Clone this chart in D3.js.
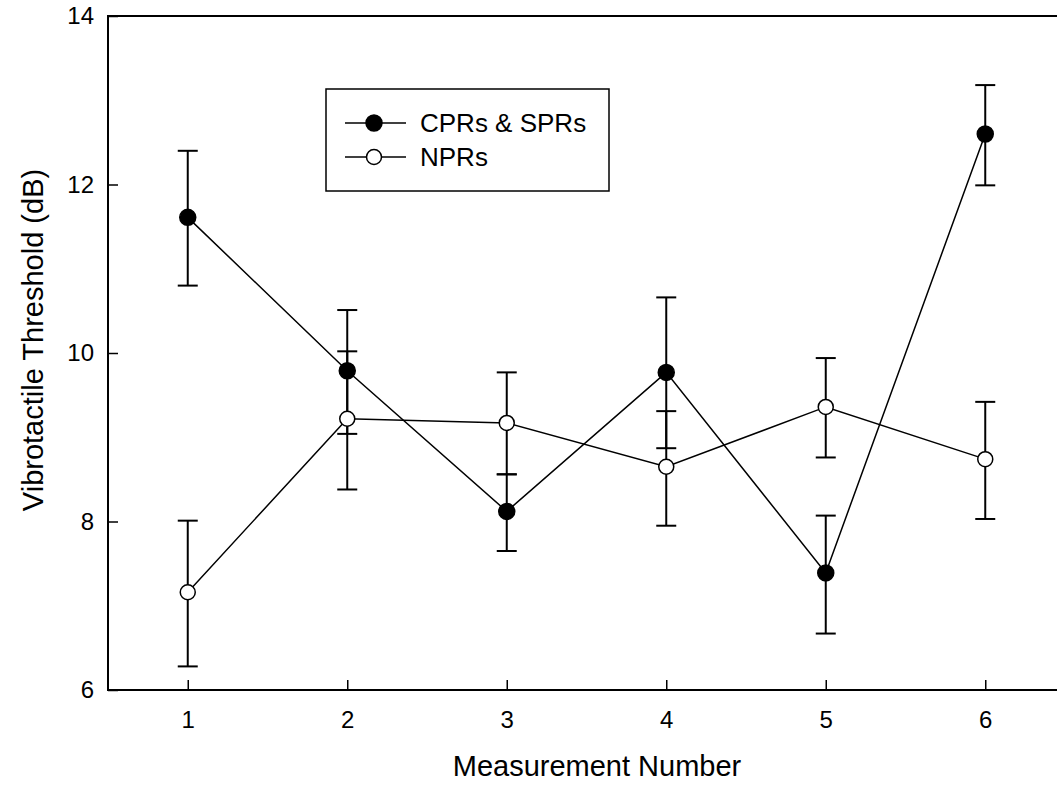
<!DOCTYPE html>
<html>
<head>
<meta charset="utf-8">
<script src="https://cdn.jsdelivr.net/npm/d3@7"></script>
<style>
    body { margin: 0; background: #fff; }
    svg { display: block; font-family: "Liberation Sans", Arial, sans-serif; }
</style>
</head>
<body>
<svg id="chart"></svg>
<script>
// Data
const measurements = [1, 2, 3, 4, 5, 6];
const cprMean = [11.61, 9.79, 8.12, 9.77, 7.39, 12.60];
const cprLow  = [10.80, 9.04, 7.65, 8.87, 6.67, 11.99];
const cprHigh = [12.40, 10.51, 8.56, 10.66, 8.07, 13.18];
const nprMean = [7.16, 9.22, 9.17, 8.65, 9.36, 8.74];
const nprLow  = [6.28, 8.38, 8.56, 7.95, 8.76, 8.03];
const nprHigh = [8.01, 10.02, 9.77, 9.31, 9.94, 9.42];
const yTicks = [6, 8, 10, 12, 14];
const seriesNames = ['CPRs & SPRs', 'NPRs'];

const width = 1057, height = 792;
const margin = { top: 16, left: 108, bottom: 102 };

const svg = d3.select('#chart')
    .attr('width', width)
    .attr('height', height);

const series = [
    { name: seriesNames[0], fill: '#000', mean: cprMean, low: cprLow, high: cprHigh },
    { name: seriesNames[1], fill: '#fff', mean: nprMean, low: nprLow, high: nprHigh }
].map(s => ({
    ...s,
    values: measurements.map((m, i) => ({ x: m, y: s.mean[i], lo: s.low[i], hi: s.high[i] }))
}));

const xScale = d3.scaleLinear()
    .domain([0.5, 6.5])
    .range([margin.left, margin.left + 6 * 159.5]);

const yScale = d3.scaleLinear()
    .domain([6, 14])
    .range([height - margin.bottom, margin.top]);

// axes (ticks pointing inward)
const xAxis = d3.axisBottom(xScale)
    .tickValues(measurements)
    .tickSizeInner(-10)
    .tickSizeOuter(0)
    .tickPadding(21)
    .tickFormat(d3.format('d'));

const yAxis = d3.axisLeft(yScale)
    .tickValues(yTicks)
    .tickSizeInner(-10)
    .tickSizeOuter(0)
    .tickPadding(14);

const xAxisG = svg.append('g')
    .attr('transform', `translate(0,${yScale(6)})`)
    .call(xAxis);

const yAxisG = svg.append('g')
    .attr('transform', `translate(${xScale(0.5)},0)`)
    .call(yAxis);

[xAxisG, yAxisG].forEach(g => {
    g.select('.domain').remove();
    g.selectAll('.tick line').attr('stroke', '#000').attr('stroke-width', 1.5);
    g.selectAll('.tick text')
        .attr('fill', '#000')
        .style('font-size', '24px')
        .style('font-family', '"Liberation Sans", Arial, sans-serif');
});

// frame
svg.append('rect')
    .attr('x', xScale(0.5))
    .attr('y', yScale(14))
    .attr('width', xScale(6.5) - xScale(0.5))
    .attr('height', yScale(6) - yScale(14))
    .attr('fill', 'none')
    .attr('stroke', '#000')
    .attr('stroke-width', 2);

// axis titles
svg.append('text')
    .attr('x', 597)
    .attr('y', 776)
    .attr('text-anchor', 'middle')
    .style('font-size', '29px')
    .text('Measurement Number');

svg.append('text')
    .attr('transform', 'rotate(-90)')
    .attr('x', -340)
    .attr('y', 43)
    .attr('text-anchor', 'middle')
    .style('font-size', '29px')
    .text('Vibrotactile Threshold (dB)');

const line = d3.line()
    .x(d => xScale(d.x))
    .y(d => yScale(d.y));

const marks = svg.append('g');

// lines
marks.selectAll('.series-line')
    .data(series)
    .join('path')
    .attr('class', 'series-line')
    .attr('d', d => line(d.values))
    .attr('fill', 'none')
    .attr('stroke', '#000')
    .attr('stroke-width', 1.5);

// error bars
const errG = marks.selectAll('.err-series')
    .data(series)
    .join('g')
    .attr('class', 'err-series');

errG.selectAll('.err-stem')
    .data(d => d.values)
    .join('line')
    .attr('x1', d => xScale(d.x))
    .attr('x2', d => xScale(d.x))
    .attr('y1', d => yScale(d.lo))
    .attr('y2', d => yScale(d.hi))
    .attr('stroke', '#000')
    .attr('stroke-width', 2);

['lo', 'hi'].forEach(k => {
    errG.selectAll('.cap-' + k)
        .data(d => d.values)
        .join('line')
        .attr('class', 'cap-' + k)
        .attr('x1', d => xScale(d.x) - 10)
        .attr('x2', d => xScale(d.x) + 10)
        .attr('y1', d => yScale(d[k]))
        .attr('y2', d => yScale(d[k]))
        .attr('stroke', '#000')
        .attr('stroke-width', 2);
});

// markers
series.forEach(s => {
    marks.append('g')
        .selectAll('circle')
        .data(s.values)
        .join('circle')
        .attr('cx', d => xScale(d.x))
        .attr('cy', d => yScale(d.y))
        .attr('r', s.fill === '#000' ? 8 : 7.5)
        .attr('fill', s.fill)
        .attr('stroke', '#000')
        .attr('stroke-width', 1.5);
});

// legend
const legend = svg.append('g');
legend.append('rect')
    .attr('x', 326).attr('y', 89)
    .attr('width', 283).attr('height', 102)
    .attr('fill', '#fff')
    .attr('stroke', '#000')
    .attr('stroke-width', 1.5);

const rows = legend.selectAll('.legend-row')
    .data(series)
    .join('g')
    .attr('class', 'legend-row')
    .attr('transform', (d, i) => `translate(0,${123 + i * 34})`);

rows.append('line')
    .attr('x1', 345).attr('x2', 406)
    .attr('stroke', '#000')
    .attr('stroke-width', 1.5);

rows.append('circle')
    .attr('cx', 374)
    .attr('r', d => d.fill === '#000' ? 8 : 7.5)
    .attr('fill', d => d.fill)
    .attr('stroke', '#000')
    .attr('stroke-width', 1.5);

rows.append('text')
    .attr('x', 420)
    .attr('dy', '0.36em')
    .style('font-size', '26px')
    .text(d => d.name);
</script>
</body>
</html>
